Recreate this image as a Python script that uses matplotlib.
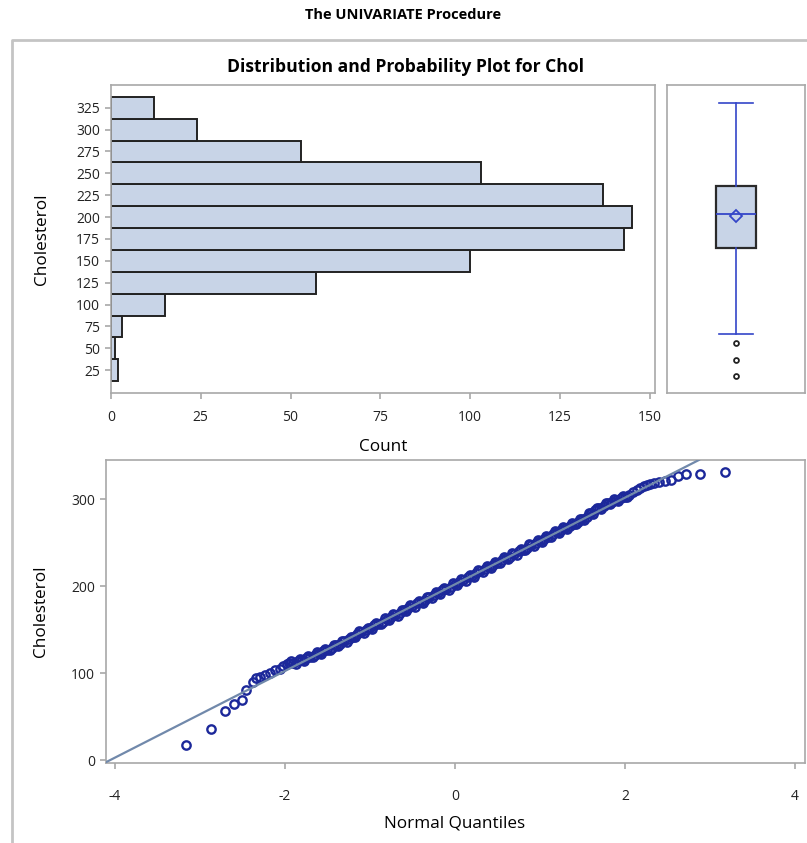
import numpy as np
import matplotlib.pyplot as plt
from matplotlib.lines import Line2D

plt.rcParams['font.family'] = ['Open Sans', 'DejaVu Sans']
plt.rcParams['axes.unicode_minus'] = False

# histogram of Chol (bin midpoints and counts)
bin_mid = [25, 50, 75, 100, 125, 150, 175, 200, 225, 250, 275, 300, 325]
bin_count = [2, 1, 3, 15, 57, 100, 143, 145, 137, 103, 53, 24, 12]

# box plot summary
box_q1, box_median, box_q3 = 165, 203, 236
box_mean = 201
whisker_lo, whisker_hi = 66, 331
outliers = [56, 37, 18]

# normal probability plot (quantile, cholesterol)
qq_quantile = [-3.16, -2.87, -2.71, -2.60, -2.51, -2.46, -2.38, -2.34, -2.29, -2.24,
               -2.18, -2.12, -2.06, -2.02, -1.98, -1.95, -1.90, -1.85, -1.80, -1.75,
               -1.70, -1.65, -1.60, -1.55, -1.50, -1.45, -1.40, -1.35, -1.30, -1.25,
               -1.20, -1.15, -1.10, -1.05, -1.00, -0.95, -0.90, -0.85, -0.80, -0.75,
               -0.70, -0.65, -0.60, -0.55, -0.50, -0.45, -0.40, -0.35, -0.30, -0.25,
               -0.20, -0.15, -0.10, -0.05, 0.00, 0.05, 0.10, 0.15, 0.20, 0.25,
               0.30, 0.35, 0.40, 0.45, 0.50, 0.55, 0.60, 0.65, 0.70, 0.75,
               0.80, 0.85, 0.90, 0.95, 1.00, 1.05, 1.10, 1.15, 1.20, 1.25,
               1.30, 1.35, 1.40, 1.45, 1.50, 1.55, 1.60, 1.65, 1.70, 1.75,
               1.80, 1.85, 1.90, 1.95, 2.00, 2.05, 2.10, 2.14, 2.18, 2.22,
               2.26, 2.30, 2.34, 2.40, 2.47, 2.54, 2.63, 2.72, 2.88, 3.18]
qq_chol = [17, 36, 56, 65, 69, 80, 90, 94, 96, 98,
           100, 103, 105, 108, 111, 112, 112, 114, 115, 117,
           119, 121, 123, 125, 127, 129, 132, 134, 137, 139,
           142, 145, 147, 149, 152, 155, 157, 159, 162, 165,
           167, 169, 172, 175, 177, 180, 182, 184, 187, 190,
           192, 195, 197, 199, 202, 205, 207, 210, 212, 215,
           217, 220, 222, 224, 227, 230, 232, 234, 237, 240,
           242, 244, 247, 250, 252, 254, 257, 260, 262, 264,
           267, 269, 271, 274, 277, 280, 284, 287, 290, 292,
           295, 297, 299, 301, 303, 305, 308, 310, 313, 315,
           316, 317, 318, 320, 321, 322, 327, 329, 329, 331]
# extra points filling the dense central band
qq_quantile_mid = [-1.925, -1.875, -1.825, -1.775, -1.725, -1.675, -1.625, -1.575, -1.525, -1.475,
                   -1.425, -1.375, -1.325, -1.275, -1.225, -1.175, -1.125, -1.075, -1.025, -0.975,
                   -0.925, -0.875, -0.825, -0.775, -0.725, -0.675, -0.625, -0.575, -0.525, -0.475,
                   -0.425, -0.375, -0.325, -0.275, -0.225, -0.175, -0.125, -0.075, -0.025, 0.025,
                   0.075, 0.125, 0.175, 0.225, 0.275, 0.325, 0.375, 0.425, 0.475, 0.525,
                   0.575, 0.625, 0.675, 0.725, 0.775, 0.825, 0.875, 0.925, 0.975, 1.025,
                   1.075, 1.125, 1.175, 1.225, 1.275, 1.325, 1.375, 1.425, 1.475, 1.525,
                   1.575, 1.625, 1.675, 1.725, 1.775, 1.825, 1.875, 1.925, 1.975, 2.025]
qq_chol_mid = [114, 111, 116, 114, 120, 118, 124, 122, 128, 126,
               132, 131, 137, 136, 142, 141, 148, 146, 152, 151,
               158, 156, 163, 161, 168, 166, 173, 171, 178, 176,
               183, 181, 188, 186, 193, 191, 198, 196, 203, 201,
               208, 206, 213, 211, 218, 216, 223, 221, 228, 226,
               233, 231, 238, 236, 243, 241, 248, 246, 253, 251,
               258, 256, 263, 261, 268, 266, 272, 271, 277, 276,
               284, 283, 290, 289, 295, 294, 300, 298, 304, 302]
ref_mu, ref_sigma = 202, 49.8

fill_col = '#c8d4e7'
blue = '#3446c8'
frame_col = '#a8a8a8'

fig = plt.figure(figsize=(8.07, 8.43), dpi=100)

# outer gray frame (clipped at right/bottom like the original)
fig.add_artist(Line2D([12/807, 12/807, 1.0], [0.0, 1-40/843, 1-40/843],
                      transform=fig.transFigure, color='#c4c4c4', lw=2))

fig.text(0.5, 1-15/843, 'The UNIVARIATE Procedure', ha='center', va='center',
         fontsize=10.5, fontweight='bold')
fig.text(0.503, 1-67/843, 'Distribution and Probability Plot for Chol', ha='center',
         va='center', fontsize=12.6, fontweight='bold')


def style_axes(ax):
    for s in ax.spines.values():
        s.set_color(frame_col)
        s.set_linewidth(1.2)
    ax.tick_params(colors=frame_col, labelcolor='#222222', labelsize=10, length=4.5, width=1.2)


# histogram
ax1 = fig.add_axes([111/807, 1-393/843, 544/807, 308/843])
ax1.barh(bin_mid, bin_count, height=25, color=fill_col, edgecolor='#222222', linewidth=1.4)
ax1.set_xlim(0, 151.5)
ax1.set_ylim(-1, 351)
ax1.set_xticks([0, 25, 50, 75, 100, 125, 150])
ax1.set_yticks(bin_mid)
ax1.set_xlabel('Count', fontsize=12.3)
ax1.set_ylabel('Cholesterol', fontsize=12.3)
style_axes(ax1)
ax1.tick_params(axis='x', pad=8)
ax1.xaxis.set_label_coords(0.5, -0.15)
ax1.yaxis.set_label_coords(-0.113, 0.5)

# box plot
ax2 = fig.add_axes([667/807, 1-393/843, 138/807, 308/843])
ax2.bxp([{'med': box_median, 'q1': box_q1, 'q3': box_q3, 'whislo': whisker_lo,
          'whishi': whisker_hi, 'mean': box_mean, 'fliers': outliers}],
        positions=[0], widths=0.58, patch_artist=True, showmeans=True,
        boxprops=dict(facecolor=fill_col, edgecolor='#2a2a2a', linewidth=1.6),
        medianprops=dict(color=blue, linewidth=1.3),
        whiskerprops=dict(color=blue, linewidth=1.2),
        capprops=dict(color=blue, linewidth=1.2),
        capwidths=0.5,
        meanprops=dict(marker='D', markerfacecolor='none', markeredgecolor=blue,
                       markersize=6.5, markeredgewidth=1.3),
        flierprops=dict(marker='o', markerfacecolor='none', markeredgecolor='#222222',
                        markersize=3.5, markeredgewidth=1.3))
ax2.set_xlim(-1, 1)
ax2.set_ylim(-1, 351)
ax2.set_xticks([])
ax2.set_yticks([])
style_axes(ax2)

# normal probability plot
ax3 = fig.add_axes([106/807, 1-763/843, 699/807, 303/843])
ax3.plot(qq_quantile + qq_quantile_mid, qq_chol + qq_chol_mid, linestyle='none', marker='o',
         markersize=6, markerfacecolor='none', markeredgecolor='#1c289a',
         markeredgewidth=1.7, zorder=2)
ax3.axline((0, ref_mu), slope=ref_sigma, color='#7189ab', linewidth=1.6, zorder=3)
ax3.set_xlim(-4.106, 4.12)
ax3.set_ylim(-3.4, 345)
ax3.set_xticks([-4, -2, 0, 2, 4])
ax3.set_yticks([0, 100, 200, 300])
ax3.set_xlabel('Normal Quantiles', fontsize=12.3)
ax3.set_ylabel('Cholesterol', fontsize=12.3)
style_axes(ax3)
ax3.tick_params(axis='x', pad=14)
ax3.xaxis.set_label_coords(0.499, -0.172)
ax3.yaxis.set_label_coords(-0.081, 0.5)

fig.savefig('out.png', dpi=100)
